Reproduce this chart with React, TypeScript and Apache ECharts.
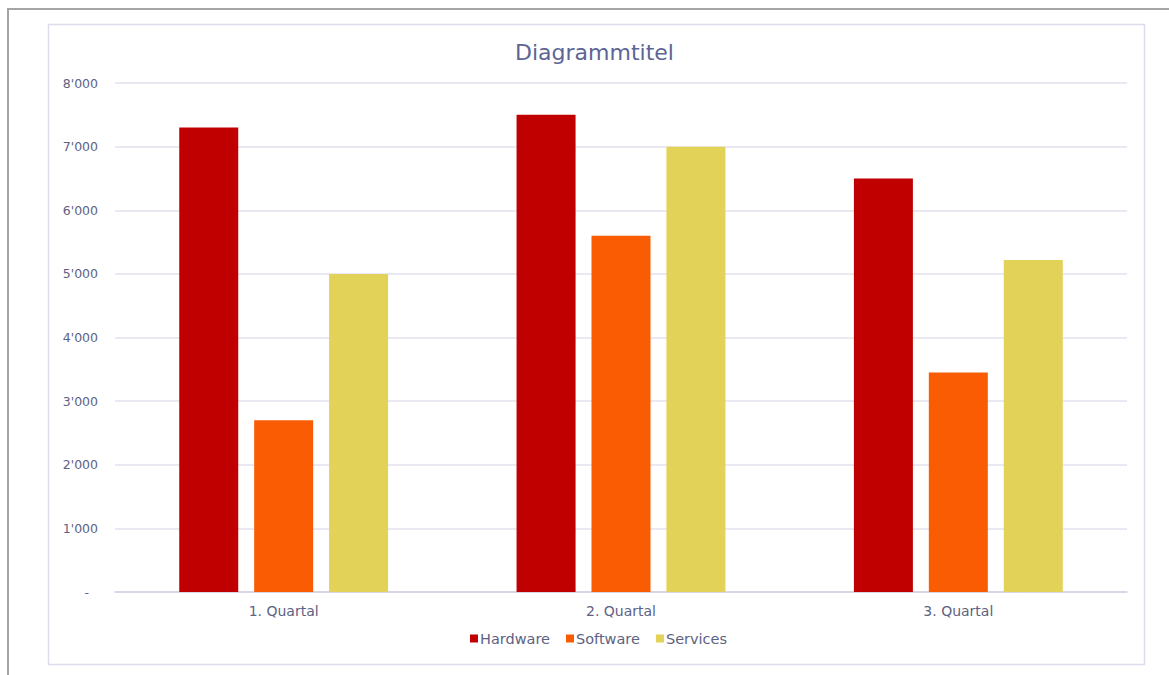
import React, { useEffect, useRef } from "react";
import * as echarts from "echarts";

const categories = ["1. Quartal", "2. Quartal", "3. Quartal"];
const seriesNames = ["Hardware", "Software", "Services"];
const hardware = [7300, 7500, 6500];
const software = [2700, 5600, 3450];
const services = [5000, 7000, 5220];
const colors = ["#C00000", "#F95C02", "#E2D257"];
const FONT = "'DejaVu Sans', sans-serif";
const TEXT = "#5d6283";

function fmt(v: number): string {
  if (v === 0) return "{d|-}";
  const s = String(Math.round(v));
  return s.length > 3 ? s.slice(0, s.length - 3) + "'" + s.slice(-3) : s;
}

export default function App() {
  const ref = useRef<HTMLDivElement>(null);
  useEffect(() => {
    if (!ref.current) return;
    const chart = echarts.init(ref.current, undefined, { renderer: "svg" });
    const data = [hardware, software, services];
    chart.setOption({
      animation: false,
      backgroundColor: "#ffffff",
      textStyle: { fontFamily: FONT },
      title: {
        text: "Diagrammtitel",
        left: 510,
        top: 36,
        textStyle: { fontFamily: FONT, fontSize: 22, fontWeight: "normal", color: "#5c6594" },
      },
      legend: {
        data: seriesNames,
        bottom: 24,
        left: 465,
        itemWidth: 8,
        itemHeight: 8,
        itemGap: 16,
        icon: "rect",
        textStyle: { fontFamily: FONT, fontSize: 14.5, color: TEXT, padding: [0, 0, 0, -3] },
      },
      grid: { left: 115, right: 42, top: 83, bottom: 83, containLabel: false },
      xAxis: {
        type: "category",
        data: categories,
        axisTick: { show: false },
        axisLine: { lineStyle: { color: "#cfd1e3", width: 1.5 } },
        axisLabel: { fontFamily: FONT, fontSize: 14, color: TEXT, margin: 12 },
      },
      yAxis: {
        type: "value",
        min: 0,
        max: 8000,
        interval: 1000,
        axisLine: { show: false },
        axisTick: { show: false },
        splitLine: { lineStyle: { color: "#e1e2ee", width: 1.5 } },
        axisLabel: {
          fontFamily: FONT,
          fontSize: 12.5,
          color: TEXT,
          margin: 17,
          formatter: fmt,
          rich: { d: { fontFamily: FONT, fontSize: 12.5, color: TEXT, padding: [0, 9, 0, 0] } },
        },
      },
      series: seriesNames.map((name, i) => ({
        name,
        type: "bar",
        data: data[i],
        barWidth: 59,
        barGap: "27%",
        itemStyle: { color: colors[i] },
      })),
      graphic: [
        {
          type: "rect",
          shape: { x: 48.5, y: 24.5, width: 1096, height: 640 },
          style: { fill: "none", stroke: "#dcdced", lineWidth: 1.5 },
          silent: true,
        },
        {
          type: "line",
          shape: { x1: 7, y1: 9, x2: 1169, y2: 9 },
          style: { stroke: "#a5a5a5", lineWidth: 2 },
          silent: true,
        },
        {
          type: "line",
          shape: { x1: 8, y1: 8, x2: 8, y2: 675 },
          style: { stroke: "#a5a5a5", lineWidth: 2 },
          silent: true,
        },
      ],
    });
    return () => chart.dispose();
  }, []);
  return (
    <div
      ref={ref}
      style={{ position: "fixed", left: 0, top: 0, width: 1169, height: 675 }}
    />
  );
}
